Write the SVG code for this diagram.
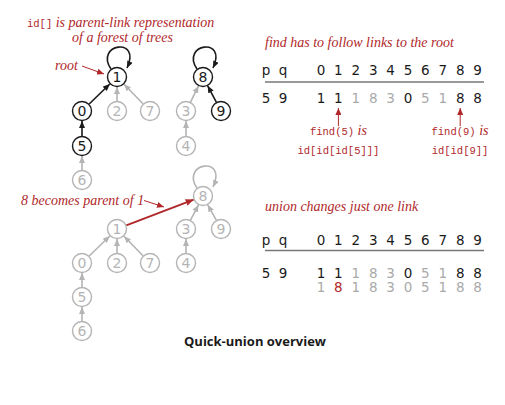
<svg xmlns="http://www.w3.org/2000/svg" width="505" height="405" viewBox="0 0 505 405">
<style>
.bg{fill:#fff}
.nb circle{fill:#fff;stroke:#1a1a1a;stroke-width:1.4}
.nb text{fill:#1a1a1a}
.ng circle{fill:#fff;stroke:#b4b4b4;stroke-width:1.4}
.ng text{fill:#b4b4b4}
.node text{font-family:"DejaVu Sans",sans-serif;font-size:14px;text-anchor:middle}
.eb{stroke:#1a1a1a;stroke-width:1.6;fill:none;marker-end:url(#ab)}
.eg{stroke:#b4b4b4;stroke-width:1.6;fill:none;marker-end:url(#ag)}
.er{stroke:#b0282a;stroke-width:2;fill:none;marker-end:url(#ar)}
.ern{stroke:#b0282a;stroke-width:1;fill:none;marker-end:url(#ar2)}
.it{font-family:"Liberation Serif",serif;font-style:italic;font-size:14px;fill:#b0282a}
.mono{font-family:"Liberation Mono",monospace;font-size:10.5px;fill:#b0282a}
.tb{font-family:"DejaVu Sans",sans-serif;font-size:13.5px;text-anchor:middle;fill:#1a1a1a}
.tg{fill:#aaaaaa}
.tr{fill:#b0282a}
.rule{stroke:#777;stroke-width:1.5}
.ttl{font-family:"Open Sans",sans-serif;font-weight:bold;font-size:13px;text-anchor:middle;fill:#1a1a1a}
</style>
<defs>
<marker id="ab" markerUnits="userSpaceOnUse" markerWidth="8" markerHeight="6" refX="7" refY="3" orient="auto"><path d="M0,0 L7,3 L0,6 z" fill="#1a1a1a"/></marker>
<marker id="ag" markerUnits="userSpaceOnUse" markerWidth="8" markerHeight="6" refX="7" refY="3" orient="auto"><path d="M0,0 L7,3 L0,6 z" fill="#b4b4b4"/></marker>
<marker id="ar" markerUnits="userSpaceOnUse" markerWidth="9" markerHeight="7" refX="8" refY="3.5" orient="auto"><path d="M0,0 L8,3.5 L0,7 z" fill="#b0282a"/></marker>
<marker id="ar2" markerUnits="userSpaceOnUse" markerWidth="8" markerHeight="6" refX="7" refY="3" orient="auto"><path d="M0,0 L7,3 L0,6 z" fill="#b0282a"/></marker>
</defs>
<rect class="bg" x="0" y="0" width="505" height="405"/>

<g id="connectors">
<path class="eb" d="M111,69 C94,44 142,36 127,68"/>
<path class="eb" d="M197,69 C180,44 228,36 213,68"/>
<line class="eb" x1="89.2" y1="104" x2="109.8" y2="84"/>
<line class="eg" x1="117" y1="101" x2="117" y2="87"/>
<line class="eg" x1="143" y1="103.8" x2="124" y2="84.2"/>
<line class="eb" x1="82" y1="136" x2="82" y2="121"/>
<line class="eg" x1="82" y1="170" x2="82" y2="156"/>
<line class="eg" x1="190.5" y1="102.1" x2="198.5" y2="85.9"/>
<line class="eb" x1="216.3" y1="102.2" x2="207.7" y2="85.8"/>
<line class="eg" x1="186" y1="136" x2="186" y2="121"/>
<path class="eg" d="M197,188 C180,163 228,155 213,187"/>
<line class="er" x1="126.3" y1="225.4" x2="193.7" y2="199.6"/>
<line class="eg" x1="190.5" y1="220.1" x2="198.5" y2="204.9"/>
<line class="eg" x1="216.3" y1="220.2" x2="207.7" y2="204.8"/>
<line class="eg" x1="186" y1="253" x2="186" y2="239"/>
<line class="eg" x1="89.2" y1="256" x2="109.8" y2="236"/>
<line class="eg" x1="117" y1="253" x2="117" y2="239"/>
<line class="eg" x1="143" y1="255.8" x2="124" y2="236.2"/>
<line class="eg" x1="82" y1="287" x2="82" y2="273"/>
<line class="eg" x1="82" y1="321" x2="82" y2="307"/>
<line class="ern" x1="82" y1="66" x2="104" y2="74"/>
<line class="ern" x1="144" y1="200.5" x2="164" y2="207"/>
<line class="ern" x1="338.4" y1="126" x2="338.4" y2="108"/>
<line class="ern" x1="460.2" y1="126" x2="460.2" y2="108"/>
</g>

<g id="node-t1" class="node nb"><circle cx="117" cy="77" r="9.5"/><text x="117" y="82">1</text></g>
<g id="node-t0" class="node nb"><circle cx="82" cy="111" r="9.5"/><text x="82" y="116">0</text></g>
<g id="node-t2" class="node ng"><circle cx="117" cy="111" r="9.5"/><text x="117" y="116">2</text></g>
<g id="node-t7" class="node ng"><circle cx="150" cy="111" r="9.5"/><text x="150" y="116">7</text></g>
<g id="node-t5" class="node nb"><circle cx="82" cy="146" r="9.5"/><text x="82" y="151">5</text></g>
<g id="node-t6" class="node ng"><circle cx="82" cy="180" r="9.5"/><text x="82" y="185">6</text></g>
<g id="node-t8" class="node nb"><circle cx="203" cy="77" r="9.5"/><text x="203" y="82">8</text></g>
<g id="node-t3" class="node ng"><circle cx="186" cy="111" r="9.5"/><text x="186" y="116">3</text></g>
<g id="node-t9" class="node nb"><circle cx="221" cy="111" r="9.5"/><text x="221" y="116">9</text></g>
<g id="node-t4" class="node ng"><circle cx="186" cy="146" r="9.5"/><text x="186" y="151">4</text></g>

<g id="node-b8" class="node ng"><circle cx="203" cy="196" r="9.5"/><text x="203" y="201">8</text></g>
<g id="node-b1" class="node ng"><circle cx="117" cy="229" r="9.5"/><text x="117" y="234">1</text></g>
<g id="node-b3" class="node ng"><circle cx="186" cy="229" r="9.5"/><text x="186" y="234">3</text></g>
<g id="node-b9" class="node ng"><circle cx="221" cy="229" r="9.5"/><text x="221" y="234">9</text></g>
<g id="node-b0" class="node ng"><circle cx="82" cy="263" r="9.5"/><text x="82" y="268">0</text></g>
<g id="node-b2" class="node ng"><circle cx="117" cy="263" r="9.5"/><text x="117" y="268">2</text></g>
<g id="node-b7" class="node ng"><circle cx="150" cy="263" r="9.5"/><text x="150" y="268">7</text></g>
<g id="node-b4" class="node ng"><circle cx="186" cy="263" r="9.5"/><text x="186" y="268">4</text></g>
<g id="node-b5" class="node ng"><circle cx="82" cy="297" r="9.5"/><text x="82" y="302">5</text></g>
<g id="node-b6" class="node ng"><circle cx="82" cy="331" r="9.5"/><text x="82" y="336">6</text></g>

<g id="labels">
<text x="27" y="27"><tspan class="mono">id[]</tspan><tspan class="it"> is parent-link representation</tspan></text>
<text class="it" x="72" y="42">of a forest of trees</text>
<text class="it" x="55" y="70">root</text>
<text x="21" y="205"><tspan class="it" font-size="12.5px">8 becomes parent of </tspan><tspan class="it" font-style="normal" font-family="DejaVu Sans, sans-serif" font-size="11.5px">1</tspan></text>
<text class="it" x="265" y="47">find has to follow links to the root</text>
<text class="it" x="265" y="211">union changes just one link</text>
<text x="338.4" y="135" text-anchor="middle"><tspan class="mono">find(5)</tspan><tspan class="it"> is</tspan></text>
<text class="mono" x="338.4" y="154" text-anchor="middle">id[id[id[5]]]</text>
<text x="460" y="135" text-anchor="middle"><tspan class="mono">find(9)</tspan><tspan class="it"> is</tspan></text>
<text class="mono" x="460" y="154" text-anchor="middle">id[id[9]]</text>
<text class="ttl" x="255" y="346">Quick-union overview</text>
</g>

<g id="table-find">
<text class="tb" y="75"><tspan x="266">p</tspan><tspan x="283">q</tspan><tspan x="321">0</tspan><tspan x="338.4">1</tspan><tspan x="355.8">2</tspan><tspan x="373.2">3</tspan><tspan x="390.6">4</tspan><tspan x="408">5</tspan><tspan x="425.4">6</tspan><tspan x="442.8">7</tspan><tspan x="460.2">8</tspan><tspan x="477.6">9</tspan></text>
<line class="rule" x1="265" y1="82" x2="484" y2="82"/>
<text class="tb" y="102.5"><tspan x="266">5</tspan><tspan x="283">9</tspan><tspan x="321">1</tspan><tspan x="338.4">1</tspan><tspan class="tg" x="355.8">1</tspan><tspan class="tg" x="373.2">8</tspan><tspan class="tg" x="390.6">3</tspan><tspan x="408">0</tspan><tspan class="tg" x="425.4">5</tspan><tspan class="tg" x="442.8">1</tspan><tspan x="460.2">8</tspan><tspan x="477.6">8</tspan></text>
</g>

<g id="table-union">
<text class="tb" y="244.5"><tspan x="266">p</tspan><tspan x="283">q</tspan><tspan x="321">0</tspan><tspan x="338.4">1</tspan><tspan x="355.8">2</tspan><tspan x="373.2">3</tspan><tspan x="390.6">4</tspan><tspan x="408">5</tspan><tspan x="425.4">6</tspan><tspan x="442.8">7</tspan><tspan x="460.2">8</tspan><tspan x="477.6">9</tspan></text>
<line class="rule" x1="265" y1="250.5" x2="484" y2="250.5"/>
<text class="tb" y="277.5"><tspan x="266">5</tspan><tspan x="283">9</tspan><tspan x="321">1</tspan><tspan x="338.4">1</tspan><tspan class="tg" x="355.8">1</tspan><tspan class="tg" x="373.2">8</tspan><tspan class="tg" x="390.6">3</tspan><tspan x="408">0</tspan><tspan class="tg" x="425.4">5</tspan><tspan class="tg" x="442.8">1</tspan><tspan x="460.2">8</tspan><tspan x="477.6">8</tspan></text>
<text class="tb tg" y="292"><tspan x="321">1</tspan><tspan class="tr" x="338.4">8</tspan><tspan x="355.8">1</tspan><tspan x="373.2">8</tspan><tspan x="390.6">3</tspan><tspan x="408">0</tspan><tspan x="425.4">5</tspan><tspan x="442.8">1</tspan><tspan x="460.2">8</tspan><tspan x="477.6">8</tspan></text>
</g>
</svg>
